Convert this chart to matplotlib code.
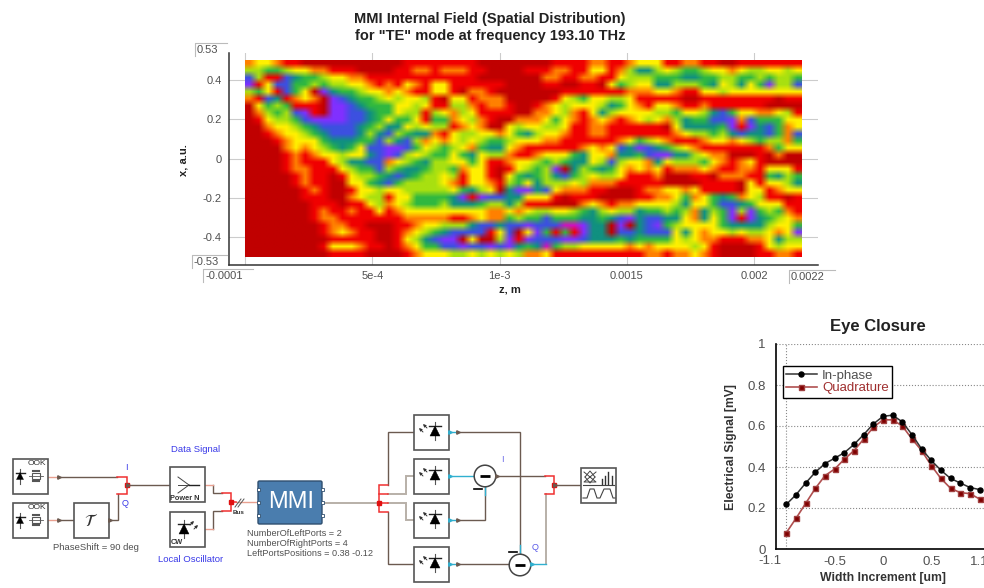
import matplotlib
matplotlib.use('Agg')
import matplotlib.pyplot as plt
import matplotlib.colors as colors
from matplotlib.patches import Rectangle, Circle, Polygon, FancyBboxPatch
import numpy as np

plt.rcParams['font.family'] = ['Liberation Sans', 'DejaVu Sans']

W, H = 984, 588

# Field map, one colour level per cell, top row is x = +0.5
HEAT_LEVELS = ['#C00000', '#F00000', '#FF8000', '#FFF000', '#A8E010',
               '#30B840', '#109080', '#3C50E0', '#8030FF', '#D010C0']
HEAT_ROWS = [
    '2332110000 0000000111 1111100000 0001111221 1233311221 1001111111',
    '4455433221 1100001122 1222110000 1112211331 2466434554 3323443343',
    '7411765543 3221111111 1111100000 0022112211 3444555665 5445545445',
    '8137755454 4332121321 3311111100 0011001103 5433664445 6346358447',
    '4531753086 5543323211 3310221000 0000111111 1222332113 3433333333',
    '2176123208 7655434334 1033122200 0001345334 4311111001 1111111011',
    '0354511108 8765553343 1144212210 0123433346 5321332112 1111110000',
    '0245478108 8776553441 4324311110 0223421364 3333445334 6753322341',
    '0134457888 8776535531 5523421002 2235321232 1234324655 7782755533',
    '0023345677 7765466343 4412320034 3344311221 1111103666 6581867523',
    '0012334567 7764674566 2134433235 6433211221 1111112344 5467667527',
    '0001233356 6655746742 3234345543 3322111111 2354321112 3323454425',
    '0000232345 6537788753 4543256632 1111112323 7687654321 1111112533',
    '0000121233 4336787434 5535634421 1233356332 6657886643 2200010200',
    '0000121113 4667723456 4433531123 3454566347 4332634445 3212310000',
    '0000122111 3455745665 4452331013 4548064565 3232312223 2112213331',
    '0000012110 1344567654 4341331035 6546754344 3111200011 0222115645',
    '0000012110 0335675444 4321332145 3644434222 1111100001 1110313346',
    '0000001210 0133433444 4435643068 8673222110 0012233231 1110331233',
    '0000001110 0234413355 5568187766 3331011100 0011223523 5652341101',
    '0000000111 0113423455 5466654464 1110002321 2233334633 5776533311',
    '0000000121 1211312333 3333332232 3443345643 4465545426 4584854521',
    '0000000122 1111111222 2211232254 5575556656 7867766326 3581865432',
    '0000000012 2110001123 3444677677 8777998660 8067854333 3566664335',
    '0000000012 3211001234 5677771370 3851518660 7767773632 3343443238',
    '0000000001 1111001346 7880300481 8777887666 5655553432 2111223644',
    '0000000013 3321101235 5778778786 5695443333 3232333343 1000013433',
    '0000000001 1110000123 3344343434 2231111111 1112212232 1000011221',
]
Z_LEFT, Z_RIGHT = 0.0, 0.002184
X_TOP, X_BOTTOM = 0.5, -0.5
Z_TICKS = [5e-4, 1e-3, 1.5e-3, 2e-3]
Z_TICK_LABELS = ['5e-4', '1e-3', '0.0015', '0.002']
X_TICKS = [-0.4, -0.2, 0, 0.2, 0.4]

# Eye closure curves
WIDTH_INC = [-1.0, -0.9, -0.8, -0.7, -0.6, -0.5, -0.4, -0.3, -0.2, -0.1, 0.0,
             0.1, 0.2, 0.3, 0.4, 0.5, 0.6, 0.7, 0.8, 0.9, 1.0]
IN_PHASE = [0.218, 0.265, 0.322, 0.375, 0.417, 0.443, 0.47, 0.51, 0.558, 0.61, 0.647,
            0.653, 0.62, 0.558, 0.488, 0.432, 0.384, 0.344, 0.322, 0.30, 0.29]
QUADRATURE = [0.08, 0.15, 0.223, 0.296, 0.358, 0.39, 0.438, 0.48, 0.536, 0.594, 0.63,
              0.63, 0.60, 0.537, 0.48, 0.407, 0.344, 0.296, 0.275, 0.27, 0.244]

# Schematic, all in image pixels
BROWN = '#6B5A50'
PINK = '#E8A090'
CYAN = '#30B0D0'
RED = '#F03030'
BUS = '#B8B0A8'
BLUE = '#3838E8'
BROWN_WIRES = [
    [(58, 476.7), (117, 476.7)],
    [(58, 520), (74, 520)],
    [(109, 520), (117.5, 520), (117.5, 494)],
    [(127, 485), (170, 485)],
    [(213, 485), (213, 493), (222, 493)],
    [(213, 529), (213, 511), (222, 511)],
    [(388, 485), (388, 432), (414, 432)],
    [(388, 512), (388, 564), (414, 564)],
    [(457, 432), (519.5, 432), (519.5, 554)],
    [(457, 520), (484.5, 520), (484.5, 487)],
    [(457, 564), (509, 564)],
    [(496, 476), (545, 476)],
    [(554, 485), (581, 485)],
]
BUS_WIRES = [
    [(323, 502.5), (379, 502.5)],
    [(388, 494), (405.5, 494), (405.5, 476), (414, 476)],
    [(388, 503), (405.5, 503), (405.5, 520), (414, 520)],
    [(545.7, 564), (545.7, 494)],
]
PINK_WIRES = [
    [(48, 476.7), (58, 476.7)],
    [(48, 520), (58, 520)],
    [(205, 485), (213, 485)],
    [(205, 529), (213, 529)],
    [(236, 502), (257, 502)],
]
CYAN_WIRES = [
    [(449, 432), (457, 432)],
    [(449, 476), (474, 476)],
    [(449, 520), (457, 520)],
    [(449, 564), (457, 564)],
    [(484.5, 487), (484.5, 495)],
    [(519.5, 545), (519.5, 554)],
    [(531, 564), (545.7, 564)],
]
RED_FORKS = [
    [(116.7, 476.7), (126.7, 476.7), (126.7, 494), (116.7, 494)],
    [(222, 493), (231, 493), (231, 511), (222, 511)],
    [(388, 485), (379.3, 485), (379.3, 511.7), (388, 511.7)],
    [(379.3, 494), (388, 494)],
    [(379.3, 503), (388, 503)],
    [(545, 476), (554, 476), (554, 494), (545, 494)],
    [(231, 502), (236, 502)],
]
OOK_BOXES = [(13, 459), (13, 503)]
DIODE_BOXES = [(414, 415), (414, 459), (414, 503), (414, 547)]
SUBTRACTORS = [(485, 476), (520, 565)]
GREY_TEXT = '#505050'


def px_axes(fig, left, top, right, bottom):
    return fig.add_axes([left / W, 1 - bottom / H, (right - left) / W, (bottom - top) / H])


def box(ax, x, y, w=35, h=35):
    ax.add_patch(Rectangle((x, y), w, h, fc='white', ec='#555555', lw=1.2, zorder=3))


def wire(ax, pts, color, lw=1.0):
    xs, ys = zip(*pts)
    ax.plot(xs, ys, color=color, lw=lw, zorder=2, solid_joinstyle='miter')


def diode(ax, cx, cy, size=4.5):
    # triangle pointing up with the bar on top, lead through it
    ax.plot([cx, cx], [cy - size - 4, cy + size + 4], color='#555555', lw=0.8, zorder=4)
    ax.plot([cx - size - 1, cx + size + 1], [cy - size, cy - size], color='#222222', lw=1, zorder=4)
    ax.add_patch(Polygon([(cx - size, cy + size), (cx + size, cy + size), (cx, cy - size)],
                         fc='black', ec='black', lw=0.3, zorder=5))


def light_arrows(ax, cx, cy, sign):
    for d in (0, 4):
        ax.annotate('', xy=(cx + sign * (3 + d) + sign * 4, cy - 7 + d),
                    xytext=(cx + sign * (3 + d), cy - 3 + d),
                    arrowprops=dict(arrowstyle='-|>', lw=0.7, color='#333333',
                                    mutation_scale=4, shrinkA=0, shrinkB=0), zorder=5)


def draw_schematic(ax):
    for pts in BROWN_WIRES:
        wire(ax, pts, BROWN)
    for pts in BUS_WIRES:
        wire(ax, pts, BUS, 1.4)
    for pts in PINK_WIRES:
        wire(ax, pts, PINK)
    for pts in CYAN_WIRES:
        wire(ax, pts, CYAN)
    for pts in RED_FORKS:
        wire(ax, pts, RED, 1.1)
    for x, y in [(127, 485), (231, 502), (379.3, 502.7), (554, 485)]:
        ax.plot(x, y, 's', color='#E01010', ms=2.5, zorder=3)

    # OOK sources
    for x, y in OOK_BOXES:
        box(ax, x, y)
        ax.text(x + 33, y + 1, 'OOK', ha='right', va='top', fontsize=6, color='#333333', zorder=6)
        diode(ax, x + 7, y + 17, 3.5)
        ax.add_patch(Rectangle((x + 19, y + 14), 8, 6, fc='white', ec='#555555', lw=0.8, zorder=4))
        ax.plot([x + 20, x + 26], [y + 12, y + 12], color='#555555', lw=1.5, zorder=4)
        ax.plot([x + 20, x + 26], [y + 22, y + 22], color='#555555', lw=1.5, zorder=4)
        ax.plot([x + 16, x + 30], [y + 17, y + 17], color='#555555', lw=0.6, zorder=4)

    # phase shift
    box(ax, 74, 503)
    ax.text(91.5, 520.5, r'$\mathcal{T}$', ha='center', va='center', fontsize=12, color='#333333', zorder=6)
    ax.text(96, 547, 'PhaseShift = 90 deg', ha='center', va='center', fontsize=6.8, color=GREY_TEXT)

    # power combiner
    box(ax, 170, 467)
    for dy in (-8, 0, 8):
        ax.plot([178, 189], [485 + dy, 485], color='#444444', lw=0.7, zorder=4)
    ax.plot([189, 199], [485, 485], color='#222222', lw=1, zorder=4)
    ax.text(170.5, 501.5, 'Power N', ha='left', va='bottom', fontsize=5.3, fontweight='bold',
            color='#333333', zorder=6)

    # CW laser
    box(ax, 170, 512)
    diode(ax, 184, 529, 5)
    light_arrows(ax, 187, 528, 1)
    ax.text(170.5, 546, 'CW', ha='left', va='bottom', fontsize=5.3, fontweight='bold',
            color='#333333', zorder=6)

    ax.text(196, 450, 'Data Signal', ha='center', va='center', fontsize=6.8, color=BLUE)
    ax.text(191, 560, 'Local Oscillator', ha='center', va='center', fontsize=6.8, color=BLUE)
    ax.text(126, 468, 'I', ha='center', va='center', fontsize=6.5, color=BLUE)
    ax.text(125, 503, 'Q', ha='center', va='center', fontsize=6.5, color=BLUE)

    # bus
    ax.plot([235, 241], [507, 499], color='#555555', lw=0.7, zorder=4)
    ax.plot([238, 244], [507, 499], color='#555555', lw=0.7, zorder=4)
    ax.text(239, 513, 'Bus', ha='center', va='center', fontsize=4.5, fontweight='bold', color='#333333')

    # MMI block
    ax.add_patch(FancyBboxPatch((258, 481), 64, 43, boxstyle='round,pad=0,rounding_size=1.5',
                                fc='#4A7DAE', ec='#2F4F6F', lw=1, zorder=3))
    for yp in (489, 502, 515):
        ax.add_patch(Rectangle((256.5, yp - 1.5), 3, 3, fc='white', ec='#2F4F6F', lw=0.6, zorder=4))
        ax.add_patch(Rectangle((320.5, yp - 1.5), 3, 3, fc='white', ec='#2F4F6F', lw=0.6, zorder=4))
    ax.text(291, 501.5, 'MMI', ha='center', va='center', fontsize=17, color='white', zorder=6)
    for yt, line in zip((533.5, 543, 553), ('NumberOfLeftPorts = 2', 'NumberOfRightPorts = 4',
                                            'LeftPortsPositions = 0.38 -0.12')):
        ax.text(247, yt, line, ha='left', va='center', fontsize=6.6, color=GREY_TEXT)

    # photodiodes
    for x, y in DIODE_BOXES:
        box(ax, x, y)
        diode(ax, x + 21, y + 16, 5)
        light_arrows(ax, x + 16, y + 16, -1)

    # subtractors
    for x, y in SUBTRACTORS:
        ax.add_patch(Circle((x, y), 10.8, fc='white', ec='#444444', lw=1.1, zorder=3))
        ax.plot([x - 5, x + 5], [y, y], color='black', lw=2, zorder=4, solid_capstyle='butt')
    ax.plot([474, 482], [489, 489], color='black', lw=1.2, zorder=4)
    ax.plot([509, 517], [552, 552], color='black', lw=1.2, zorder=4)
    ax.text(502, 459, 'I', ha='center', va='center', fontsize=6.5, color='#6868E8')
    ax.text(535.5, 547, 'Q', ha='center', va='center', fontsize=6.5, color='#5858E8')

    # visualizer
    box(ax, 581, 468)
    ax.plot([583, 614], [485, 485], color='#444444', lw=0.8, zorder=4)
    ax.plot([584, 596, 584, 596], [472, 482, 482, 472], color='#444444', lw=0.7, zorder=4)
    ax.plot([585, 590, 595], [477, 471, 477], color='#444444', lw=0.7, zorder=4)
    ax.plot([585, 590, 595], [477, 483, 477], color='#444444', lw=0.7, zorder=4)
    for xb, top in ((602, 479), (605, 476), (608, 472), (612, 476)):
        ax.plot([xb, xb], [484, top], color='#333333', lw=1, zorder=4)
    ax.plot([583, 587, 590, 594, 597, 600, 604, 610, 613, 615],
            [498, 498, 489, 489, 498, 498, 489, 489, 498, 498], color='#444444', lw=0.8, zorder=4)

    # port arrows
    for pts, col in ((BROWN_WIRES, BROWN), (CYAN_WIRES, CYAN)):
        for seg in pts:
            x0, y0 = seg[0]
            x1, y1 = seg[1]
            if y0 == y1 and x1 > x0:
                ax.plot(x0 + 1, y0, '>', color=col, ms=2.5, zorder=3)


fig = plt.figure(figsize=(W / 100, H / 100), dpi=100, facecolor='white')

# field map
ax_map = px_axes(fig, 228.7, 53, 818, 264.5)
heat = np.array([[int(c) for c in row.replace(' ', '')] for row in HEAT_ROWS])
cmap = colors.ListedColormap(HEAT_LEVELS)
ax_map.imshow(cmap(heat), extent=[Z_LEFT, Z_RIGHT, X_BOTTOM, X_TOP], aspect='auto',
              interpolation='bilinear', zorder=2)
ax_map.set_xticks([0] + Z_TICKS)
ax_map.set_xticklabels([''] + Z_TICK_LABELS, fontsize=8, color=GREY_TEXT)
ax_map.set_yticks(X_TICKS)
ax_map.set_yticklabels(['-0.4', '-0.2', '0', '0.2', '0.4'], fontsize=8, color=GREY_TEXT)
ax_map.set_xlim(Z_LEFT - 16.3 / 254.6 * 1e-3, Z_LEFT + 573 / 254.6 * 1e-3)
ax_map.set_ylim(-106 / 196.5, 105.5 / 196.5)
ax_map.grid(True, color='#CCCCCC', lw=0.8, zorder=1)
ax_map.set_axisbelow(True)
ax_map.tick_params(length=0, pad=5)
ax_map.spines['top'].set_visible(False)
ax_map.spines['right'].set_visible(False)
ax_map.spines['left'].set_color('#333333')
ax_map.spines['bottom'].set_color('#333333')
ax_map.spines['left'].set_linewidth(1.1)
ax_map.spines['bottom'].set_linewidth(1.1)

# eye closure
ax_eye = px_axes(fig, 775.5, 344, 990, 549)
ax_eye.plot(WIDTH_INC, IN_PHASE, '-o', color='#333333', mfc='black', mec='black', ms=3.6, lw=1.1,
            label='In-phase', zorder=4)
ax_eye.plot(WIDTH_INC, QUADRATURE, '-s', color='#B05050', mfc='#800000', mec='#A04040', ms=3.6, lw=1.2,
            label='Quadrature', zorder=3)
ax_eye.set_xticks([-0.5, 0, 0.5, 1.0])
ax_eye.set_xticklabels(['-0.5', '0', '0.5', '1.1'], fontsize=9.5, color=GREY_TEXT)
ax_eye.set_xticks([-1, -0.5, 0, 0.5, 1], minor=True)
ax_eye.set_yticks([0, 0.2, 0.4, 0.6, 0.8, 1])
ax_eye.set_yticklabels(['0', '0.2', '0.4', '0.6', '0.8', '1'], fontsize=9.5, color=GREY_TEXT)
ax_eye.set_xlim(-1.113, 1.108)
ax_eye.set_ylim(0, 1)
ax_eye.grid(True, which='minor', axis='x', color='#888888', lw=0.8, ls=':')
ax_eye.grid(True, which='major', axis='y', color='#888888', lw=0.8, ls=':')
ax_eye.set_axisbelow(True)
ax_eye.tick_params(which='both', length=0)
ax_eye.tick_params(axis='y', pad=7)
ax_eye.tick_params(axis='x', pad=5)
ax_eye.spines['top'].set_visible(False)
ax_eye.spines['right'].set_visible(False)
ax_eye.spines['left'].set_linewidth(1.2)
ax_eye.spines['bottom'].set_linewidth(1.2)
leg = ax_eye.legend(loc='upper left', bbox_to_anchor=((783 - 775.5) / 214.5, 1 - 22 / 205),
                    frameon=True, fancybox=False, framealpha=1, edgecolor='black', fontsize=9.5,
                    borderaxespad=0, labelspacing=0.05, handlelength=2.3, handletextpad=0.4,
                    borderpad=0.25)
leg.get_frame().set_linewidth(1.0)
leg.get_texts()[0].set_color(GREY_TEXT)
leg.get_texts()[1].set_color('#A03030')

# overlay for the schematic and free text, pixel coordinates
ov = fig.add_axes([0, 0, 1, 1], facecolor='none')
ov.set_xlim(0, W)
ov.set_ylim(H, 0)
ov.axis('off')
draw_schematic(ov)

ov.text(490, 27.5, 'MMI Internal Field (Spatial Distribution)\nfor "TE" mode at frequency 193.10 THz',
        ha='center', va='center', fontsize=10.5, fontweight='bold', color='#222222', linespacing=1.25)
ov.text(510, 290, 'z, m', ha='center', va='center', fontsize=8, fontweight='bold', color='#222222')
ov.text(184, 160, 'x, a.u.', ha='center', va='center', rotation=90, fontsize=8, fontweight='bold', color='#222222')

# range labels with their little corner marks
for text, lx, ty, rx in (('0.53', 195, 43, 227), ('-0.53', 191.5, 255, 227),
                         ('-0.0001', 203, 269, 253), ('0.0022', 789, 270, 835)):
    ov.plot([lx, lx, rx], [ty + 13, ty, ty], color='#BBBBBB', lw=0.8)
    ov.text(lx + 2, ty + 7, text, ha='left', va='center', fontsize=8, color=GREY_TEXT)

ov.text(770, 561, '-1.1', ha='center', va='center', fontsize=9.5, color=GREY_TEXT)
ov.text(878, 327, 'Eye Closure', ha='center', va='center', fontsize=12, fontweight='bold', color='#222222')
ov.text(883, 578, 'Width Increment [um]', ha='center', va='center', fontsize=8.8, fontweight='bold', color='#333333')
ov.text(731, 447, 'Electrical Signal [mV]', ha='center', va='center', rotation=90, fontsize=8.8,
        fontweight='bold', color='#333333')

fig.savefig('out.png', dpi=100)
